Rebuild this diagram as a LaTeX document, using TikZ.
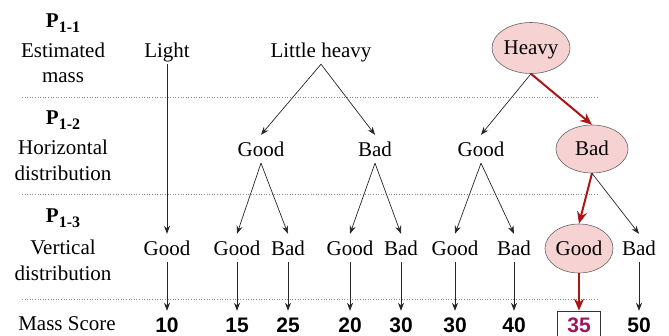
\documentclass[tikz,border=0pt]{standalone}
\usepackage{fontspec}
\setmainfont{Liberation Serif}
\newfontfamily\numfont{Liberation Sans}
\usetikzlibrary{arrows.meta,shapes.geometric}
\definecolor{pathred}{RGB}{170,22,22}
\definecolor{pickfill}{RGB}{246,210,210}
\definecolor{pickscore}{RGB}{160,20,95}
\tikzset{
  bigtext/.style={font=\fontsize{21}{25}\selectfont},
  lbl/.style={bigtext, anchor=base, inner sep=0pt},
  val/.style={bigtext, anchor=base, text height=22pt, text depth=6pt, inner xsep=1pt, inner ysep=0pt},
  pick/.style={bigtext, ellipse, draw=black!60, line width=0.6pt, fill=pickfill, inner sep=0pt,
               text height=14pt, text depth=0pt},
  score/.style={font=\fontsize{21}{25}\selectfont\numfont\bfseries, anchor=base,
                text height=22pt, text depth=6pt, inner xsep=1pt, inner ysep=0pt},
  edge/.style={draw=black!85, line width=0.7pt, -{Stealth[length=8pt,width=6pt]}},
  hot/.style={draw=pathred, line width=2pt, -{Stealth[length=12pt,width=10pt]}},
  sep/.style={draw=black!45, line width=0.6pt, dash pattern=on 1pt off 1.6pt},
}
\newcommand{\plevel}[1]{\textbf{P}\raisebox{-5pt}{\fontsize{16}{16}\selectfont\bfseries #1}}
\begin{document}
\begin{tikzpicture}[x=1pt,y=-1pt]
\useasboundingbox (0,0) rectangle (669,336);

% level separators
\draw[sep] (22,97) -- (597,97);
\draw[sep] (22,194) -- (597,194);
\draw[sep] (22,299) -- (597,299);

% row captions
\node[lbl] (p1) at (63,28) {\plevel{1-1}};
\node[lbl] (c1a) at (63,58) {Estimated};
\node[lbl] (c1b) at (63,83) {mass};
\node[lbl] (p2) at (63,125) {\plevel{1-2}};
\node[lbl] (c2a) at (63,155) {Horizontal};
\node[lbl] (c2b) at (63,181) {distribution};
\node[lbl] (p3) at (63,223) {\plevel{1-3}};
\node[lbl] (c3a) at (63,255) {Vertical};
\node[lbl] (c3b) at (63,281) {distribution};
\node[lbl] (ms) at (67,331) {Mass Score};

% estimated mass
\node[val] (light) at (167,58) {Light};
\node[val] (little) at (321,58) {Little heavy};
\node[pick, minimum width=78pt, minimum height=51pt] (heavy) at (531,48) {Heavy};

% horizontal distribution
\node[val] (h1) at (261,157) {Good};
\node[val] (h2) at (375,157) {Bad};
\node[val] (h3) at (481,157) {Good};
\node[pick, minimum width=72pt, minimum height=48pt] (h4) at (592,149) {Bad};

% vertical distribution
\node[val] (v1) at (167,256) {Good};
\node[val] (v2) at (237,256) {Good};
\node[val] (v3) at (288,256) {Bad};
\node[val] (v4) at (350,256) {Good};
\node[val] (v5) at (401,256) {Bad};
\node[val] (v6) at (455,256) {Good};
\node[val] (v7) at (514,256) {Bad};
\node[pick, minimum width=68pt, minimum height=49pt] (v8) at (579,248.5) {Good};
\node[val] (v9) at (639,256) {Bad};

% mass scores
\node[score] (s1) at (167,333) {10};
\node[score] (s2) at (237,333) {15};
\node[score] (s3) at (288,333) {25};
\node[score] (s4) at (350,333) {20};
\node[score] (s5) at (401,333) {30};
\node[score] (s6) at (455,333) {30};
\node[score] (s7) at (514,333) {40};
\node[score, draw=black!80, line width=0.6pt, inner xsep=10pt, text=pickscore] (s8) at (579,333) {35};
\node[score] (s9) at (639,333) {50};

% branches
\draw[edge] (light.south) -- (v1.north);
\draw[edge] (little.south) -- (h1.north);
\draw[edge] (little.south) -- (h2.north);
\draw[edge] (heavy.south) -- (h3.north);
\draw[hot] (heavy.south) -- (h4.north);

\draw[edge] (h1.south) -- (v2.north);
\draw[edge] (h1.south) -- (v3.north);
\draw[edge] (h2.south) -- (v4.north);
\draw[edge] (h2.south) -- (v5.north);
\draw[edge] (h3.south) -- (v6.north);
\draw[edge] (h3.south) -- (v7.north);
\draw[hot] (h4.south) -- (v8.north);
\draw[edge] (h4.south) -- (v9.north);

\foreach \i in {1,...,7,9} {
  \draw[edge] (v\i.south) -- (s\i.north);
}
\draw[hot] (v8.south) -- (s8.north);
\end{tikzpicture}
\end{document}
